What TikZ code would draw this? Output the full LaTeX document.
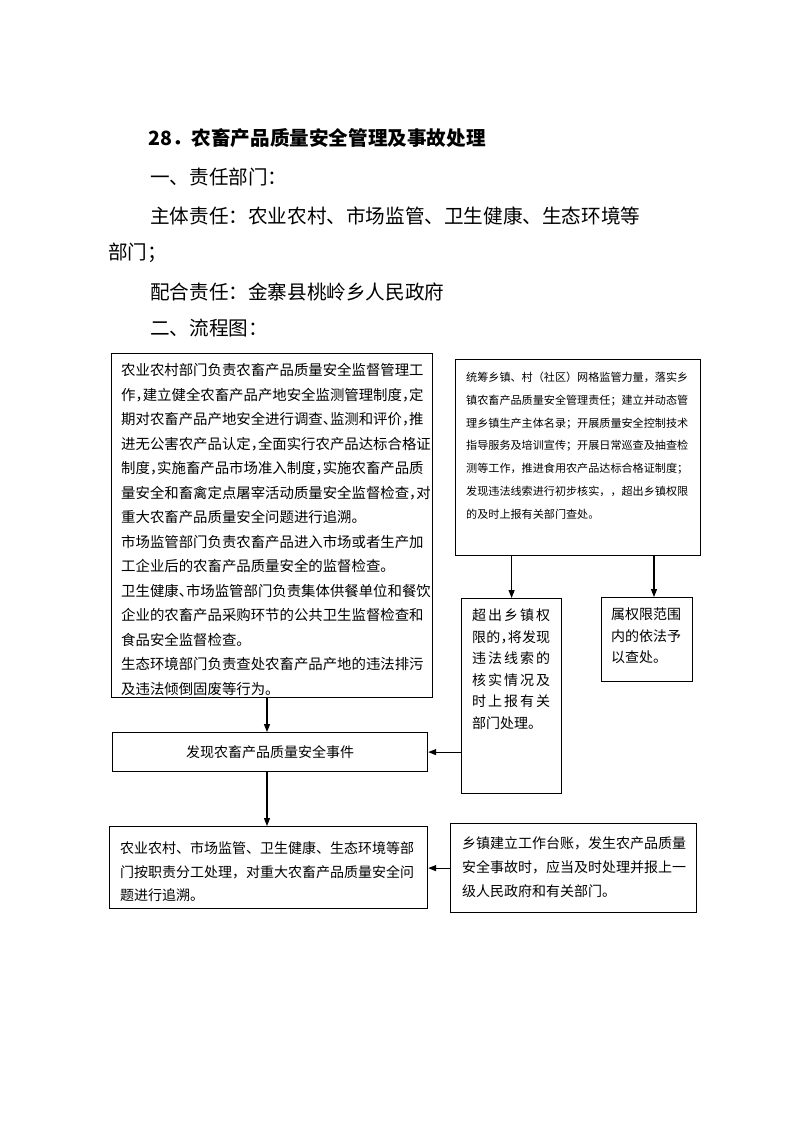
\documentclass[tikz,border=0pt]{standalone}
\usepackage{fontspec}
\setmainfont{Noto Sans CJK SC}
\newfontfamily\cjkh[RawFeature=+halt]{Noto Sans CJK SC}
\usetikzlibrary{arrows.meta}
\newcommand{\fl}{\rule{0pt}{1.2em}}
\begin{document}
\begin{tikzpicture}[x=1pt,y=-1pt,
  box/.style={draw, line width=1.2pt, inner sep=0pt, anchor=north west},
  txt/.style={inner sep=0pt, anchor=north west, align=left},
  head/.style={inner sep=0pt, anchor=base west, font=\fontsize{19.6}{19.6}\selectfont},
  arr/.style={line width=1.2pt, -{Triangle[length=8pt,width=6pt]}},
]
\useasboundingbox (0,0) rectangle (794,1122);

% headings
\node[head, font=\bfseries\fontsize{19.6}{19.6}\selectfont] (t1) at (148,145.4) {28．农畜产品质量安全管理及事故处理};
\node[head] (t2) at (150,184.9) {一、责任部门：};
\node[head] (t3) at (150,223.4) {主体责任：农业农村、市场监管、卫生健康、生态环境等};
\node[head] (t4) at (108,259.4) {部门；};
\node[head] (t5) at (150,299.4) {配合责任：金寨县桃岭乡人民政府};
\node[head] (t6) at (150,335.9) {二、流程图：};

% boxes
\node[box, minimum width=321pt, minimum height=344pt] (A) at (111,353) {};
\node[box, minimum width=245pt, minimum height=196pt] (B) at (455,359) {};
\node[box, minimum width=100pt, minimum height=195pt] (C) at (461,598) {};
\node[box, minimum width=91pt, minimum height=84pt] (D) at (601,597) {};
\node[box, minimum width=315pt, minimum height=39pt, font=\fontsize{14}{14}\selectfont] (E) at (112,732) {发现农畜产品质量安全事件};
\node[box, minimum width=318pt, minimum height=82pt] (F) at (109,826) {};
\node[box, minimum width=246pt, minimum height=89pt] (G) at (450,823) {};

% texts
\node[txt, font=\cjkh\fontsize{14.4}{24.5}\selectfont] (At) at (121,358.2) {\fl 农业农村部门负责农畜产品质量安全监督管理工\\
作，建立健全农畜产品产地安全监测管理制度，定\\
期对农畜产品产地安全进行调查、监测和评价，推\\
进无公害农产品认定，全面实行农产品达标合格证\\
制度，实施畜产品市场准入制度，实施农畜产品质\\
量安全和畜禽定点屠宰活动质量安全监督检查，对\\
重大农畜产品质量安全问题进行追溯。\\
市场监管部门负责农畜产品进入市场或者生产加\\
工企业后的农畜产品质量安全的监督检查。\\
卫生健康、市场监管部门负责集体供餐单位和餐饮\\
企业的农畜产品采购环节的公共卫生监督检查和\\
食品安全监督检查。\\
生态环境部门负责查处农畜产品产地的违法排污\\
及违法倾倒固废等行为。};

\node[txt, font=\fontsize{11.1}{22.8}\selectfont] (Bt) at (466,367.9) {\fl 统筹乡镇、村（社区）网格监管力量，落实乡\\
镇农畜产品质量安全管理责任；建立并动态管\\
理乡镇生产主体名录；开展质量安全控制技术\\
指导服务及培训宣传；开展日常巡查及抽查检\\
测等工作，推进食用农产品达标合格证制度；\\
发现违法线索进行初步核实，，超出乡镇权限\\
的及时上报有关部门查处。};

\node[txt, font=\cjkh\fontsize{14}{21.5}\selectfont] (Ct) at (472,603.5) {\fl\makebox[78pt]{超\hfill 出\hfill 乡\hfill 镇\hfill 权}\\
\makebox[78pt]{限\hfill 的\hfill ，\hfill 将\hfill 发\hfill 现}\\
\makebox[78pt]{违\hfill 法\hfill 线\hfill 索\hfill 的}\\
\makebox[78pt]{核\hfill 实\hfill 情\hfill 况\hfill 及}\\
\makebox[78pt]{时\hfill 上\hfill 报\hfill 有\hfill 关}\\
部门处理。};

\node[txt, font=\fontsize{14}{21.5}\selectfont] (Dt) at (611,602.5) {\fl 属权限范围\\
内的依法予\\
以查处。};

\node[txt, font=\fontsize{14}{23.5}\selectfont] (Ft) at (120,836.5) {\fl 农业农村、市场监管、卫生健康、生态环境等部\\
门按职责分工处理，对重大农畜产品质量安全问\\
题进行追溯。};

\node[txt, font=\fontsize{14}{24}\selectfont] (Gt) at (462,831.5) {\fl 乡镇建立工作台账，发生农产品质量\\
安全事故时，应当及时处理并报上一\\
级人民政府和有关部门。};

% connectors
\coordinate (xa) at (267,0);
\coordinate (xd) at (654,0);
\draw[arr] (A.south -| xa) -- (E.north -| xa);
\draw[arr] (E.south -| xa) -- (F.north -| xa);
\draw[arr] (B.south -| C.north) -- (C.north);
\draw[arr] (B.south -| xd) -- (D.north -| xd);
\draw[arr] (E.east -| C.west) -- (E.east);
\draw[arr] (G.west) -- (F.east |- G.west);
\end{tikzpicture}
\end{document}
